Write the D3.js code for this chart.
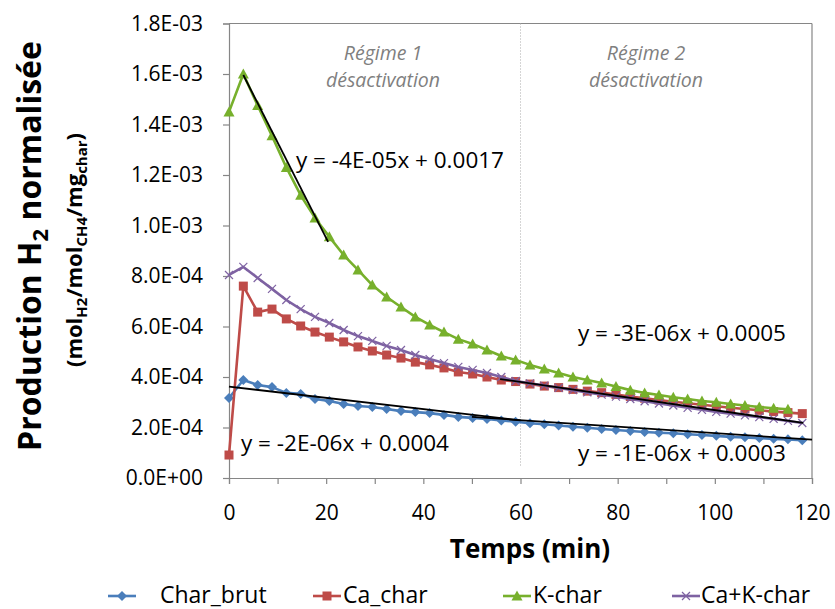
<!DOCTYPE html>
<html>
<head>
<meta charset="utf-8">
<script src="https://cdn.jsdelivr.net/npm/d3@7"></script>
<style>
  body { margin: 0; background: #fff; }
  svg text { font-family: "Open Sans", "Noto Sans", sans-serif; }
</style>
</head>
<body>
<div id="chart"></div>
<script>
// temps (min) et production H2 normalisée (en 1E-04)
const time = [0, 2.95, 5.9, 8.85, 11.8, 14.75, 17.7, 20.65, 23.6, 26.55, 29.5, 32.45, 35.4, 38.35,
  41.3, 44.25, 47.2, 50.15, 53.1, 56.05, 59, 61.95, 64.9, 67.85, 70.8, 73.75, 76.7, 79.65, 82.6,
  85.55, 88.5, 91.45, 94.4, 97.35, 100.3, 103.25, 106.2, 109.15, 112.1, 115.05, 118];

const charBrut = [3.17, 3.88, 3.68, 3.60, 3.37, 3.33, 3.13, 3.05, 2.93, 2.85, 2.81, 2.73, 2.65, 2.61,
  2.57, 2.50, 2.42, 2.38, 2.34, 2.28, 2.23, 2.17, 2.13, 2.08, 2.03, 1.99, 1.94, 1.90, 1.86, 1.82,
  1.79, 1.77, 1.73, 1.70, 1.67, 1.63, 1.61, 1.58, 1.55, 1.53, 1.50];
const caChar = [0.91, 7.60, 6.57, 6.69, 6.30, 6.02, 5.78, 5.58, 5.39, 5.19, 5.03, 4.87, 4.75, 4.59,
  4.48, 4.36, 4.20, 4.12, 4.00, 3.88, 3.82, 3.72, 3.64, 3.58, 3.51, 3.44, 3.38, 3.31, 3.23, 3.16,
  3.09, 3.02, 2.96, 2.90, 2.84, 2.78, 2.73, 2.68, 2.63, 2.59, 2.55];
const kChar = [14.5, 16.0, 14.75, 13.55, 12.3, 11.2, 10.3, 9.55, 8.83, 8.24, 7.64, 7.17, 6.77, 6.38,
  6.06, 5.78, 5.50, 5.31, 5.07, 4.83, 4.67, 4.48, 4.32, 4.16, 4.00, 3.88, 3.76, 3.62, 3.48, 3.37,
  3.29, 3.20, 3.13, 3.05, 3.00, 2.93, 2.87, 2.81, 2.76, 2.72];
const caKChar = [8.04, 8.36, 7.92, 7.49, 7.05, 6.69, 6.38, 6.14, 5.86, 5.62, 5.43, 5.23, 5.07, 4.87,
  4.71, 4.55, 4.40, 4.28, 4.16, 4.00, 3.84, 3.75, 3.66, 3.57, 3.48, 3.39, 3.30, 3.22, 3.13, 3.04,
  2.95, 2.87, 2.78, 2.70, 2.62, 2.55, 2.48, 2.41, 2.34, 2.26, 2.18];

const seriesNames = ["Char_brut", "Ca_char", "K-char", "Ca+K-char"];
const seriesColors = ["#4a7ebb", "#be4b48", "#77b02c", "#7e62a2"];
const seriesMarkers = ["diamond", "square", "triangle", "cross"];

// droites de tendance : [t0, y0, t1, y1] (1E-04)
const trendLines = [
  [2.95, 15.96, 20.4, 9.35],
  [55.8, 3.92, 118.2, 2.18],
  [0, 3.62, 60, 2.28],
  [50, 2.42, 120, 1.52]
];
const equations = ["y = -4E-05x + 0.0017", "y = -3E-06x + 0.0005", "y = -2E-06x + 0.0004", "y = -1E-06x + 0.0003"];

const yTicks = [0, 2, 4, 6, 8, 10, 12, 14, 16, 18];
const yTickLabels = ["0.0E+00", "2.0E-04", "4.0E-04", "6.0E-04", "8.0E-04", "1.0E-03", "1.2E-03", "1.4E-03", "1.6E-03", "1.8E-03"];
const xTicks = [0, 20, 40, 60, 80, 100, 120];
const xMinorTicks = [0, 10, 20, 30, 40, 50, 60, 70, 80, 90, 100, 110, 120];

const width = 835, height = 609;
const svg = d3.select("#chart").append("svg")
  .attr("width", width).attr("height", height);

const x = d3.scaleLinear().domain([0, 120]).range([229, 812]);
const y = d3.scaleLinear().domain([0, 18]).range([478, 23.5]);

// cadre
const axisColor = "#868686";
svg.append("line").attr("x1", x(0)).attr("x2", x(120)).attr("y1", y(18)).attr("y2", y(18))
  .attr("stroke", axisColor).attr("stroke-width", 1.2);
svg.append("line").attr("x1", x(120)).attr("x2", x(120)).attr("y1", y(18)).attr("y2", y(0))
  .attr("stroke", axisColor).attr("stroke-width", 1.2);

// séparation régime 1 / régime 2
svg.append("line").attr("x1", x(60)).attr("x2", x(60)).attr("y1", y(18)).attr("y2", 467)
  .attr("stroke", "#aaa").attr("stroke-width", 1).attr("stroke-dasharray", "1,2");

const yAxis = svg.append("g").attr("transform", `translate(${x(0)},0)`)
  .call(d3.axisLeft(y).tickValues(yTicks).tickSize(6).tickPadding(20)
    .tickFormat((d, i) => yTickLabels[i]));
const xAxis = svg.append("g").attr("transform", `translate(0,${y(0)})`)
  .call(d3.axisBottom(x).tickValues(xMinorTicks).tickSize(6).tickPadding(21)
    .tickFormat(d => xTicks.includes(d) ? d : ""));

[yAxis, xAxis].forEach(a => {
  a.select(".domain").attr("stroke", axisColor).attr("stroke-width", 1.2);
  a.selectAll(".tick line").attr("stroke", axisColor).attr("stroke-width", 1.2);
  a.selectAll(".tick text").attr("fill", "#000").style("font-size", "21px")
    .style("font-family", "'Open Sans', sans-serif");
});

// textes des régimes
const regimes = [["Régime 1", "désactivation"], ["Régime 2", "désactivation"]];
[[383, regimes[0]], [646, regimes[1]]].forEach(([cx, lines]) => {
  lines.forEach((t, i) => {
    svg.append("text").attr("x", cx).attr("y", 60 + i * 27)
      .attr("text-anchor", "middle").attr("fill", "#7f7f7f")
      .style("font-size", "19.5px").style("font-style", "italic").text(t);
  });
});

const allSeries = [charBrut, caChar, kChar, caKChar];
const line = d3.line().x((d, i) => x(time[i])).y(d => y(d));

function marker(g, type, color) {
  if (type === "diamond") {
    g.append("path").attr("d", "M0,-5L5,0L0,5L-5,0Z").attr("fill", color);
  } else if (type === "square") {
    g.append("rect").attr("x", -4.5).attr("y", -4.5).attr("width", 9).attr("height", 9).attr("fill", color);
  } else if (type === "triangle") {
    g.append("path").attr("d", "M0,-5.5L5.5,4.5L-5.5,4.5Z").attr("fill", color);
  } else {
    g.append("path").attr("d", "M-4,-4L4,4M-4,4L4,-4").attr("stroke", color).attr("stroke-width", 1.2);
  }
}

allSeries.forEach((vals, s) => {
  const g = svg.append("g");
  g.append("path").datum(vals).attr("d", line)
    .attr("fill", "none").attr("stroke", seriesColors[s]).attr("stroke-width", 2.6)
    .attr("stroke-linejoin", "round");
  g.selectAll("g.pt").data(vals).enter().append("g")
    .attr("transform", (d, i) => `translate(${x(time[i])},${y(d)})`)
    .each(function () { marker(d3.select(this), seriesMarkers[s], seriesColors[s]); });
});

// tendances
svg.selectAll("line.trend").data(trendLines).enter().append("line")
  .attr("x1", d => x(d[0])).attr("y1", d => y(d[1]))
  .attr("x2", d => x(d[2])).attr("y2", d => y(d[3]))
  .attr("stroke", "#000").attr("stroke-width", 1.8);

const eqPos = [[296, 168], [578, 341], [241, 451], [578, 461]];
equations.forEach((t, i) => {
  svg.append("text").attr("x", eqPos[i][0]).attr("y", eqPos[i][1])
    .style("font-size", "22.5px").attr("fill", "#000").text(t);
});

// titres des axes
svg.append("text").attr("x", 530).attr("y", 558).attr("text-anchor", "middle")
  .style("font-size", "26px").style("font-weight", "bold").text("Temps (min)");

const yt = svg.append("text").attr("transform", "translate(41,246) rotate(-90)")
  .attr("text-anchor", "middle").style("font-size", "32px").style("font-weight", "bold");
yt.append("tspan").text("Production H");
yt.append("tspan").attr("dy", 7).style("font-size", "22px").text("2");
yt.append("tspan").attr("dy", -7).text(" normalisée");

const yt2 = svg.append("text").attr("transform", "translate(82,250) rotate(-90)")
  .attr("text-anchor", "middle").style("font-size", "22px").style("font-weight", "bold");
[["(mol", false], ["H2", true], ["/mol", false], ["CH4", true], ["/mg", false], ["char", true], [")", false]]
  .forEach(([t, sub]) => {
    yt2.append("tspan").attr("dy", sub ? 5 : (t === "(mol" ? 0 : -5))
      .style("font-size", sub ? "15px" : "22px").text(t);
  });

// légende
const legendX = [[108, 160], [313, 343], [503, 533], [672, 701]];
seriesNames.forEach((name, s) => {
  const g = svg.append("g").attr("transform", `translate(${legendX[s][0]},596)`);
  g.append("line").attr("x1", 0).attr("x2", 28).attr("stroke", seriesColors[s]).attr("stroke-width", 2.6);
  const m = g.append("g").attr("transform", "translate(14,0)");
  marker(m, seriesMarkers[s], seriesColors[s]);
  svg.append("text").attr("x", legendX[s][1]).attr("y", 603)
    .style("font-size", "23px").attr("fill", "#000").text(name);
});
</script>
</body>
</html>
